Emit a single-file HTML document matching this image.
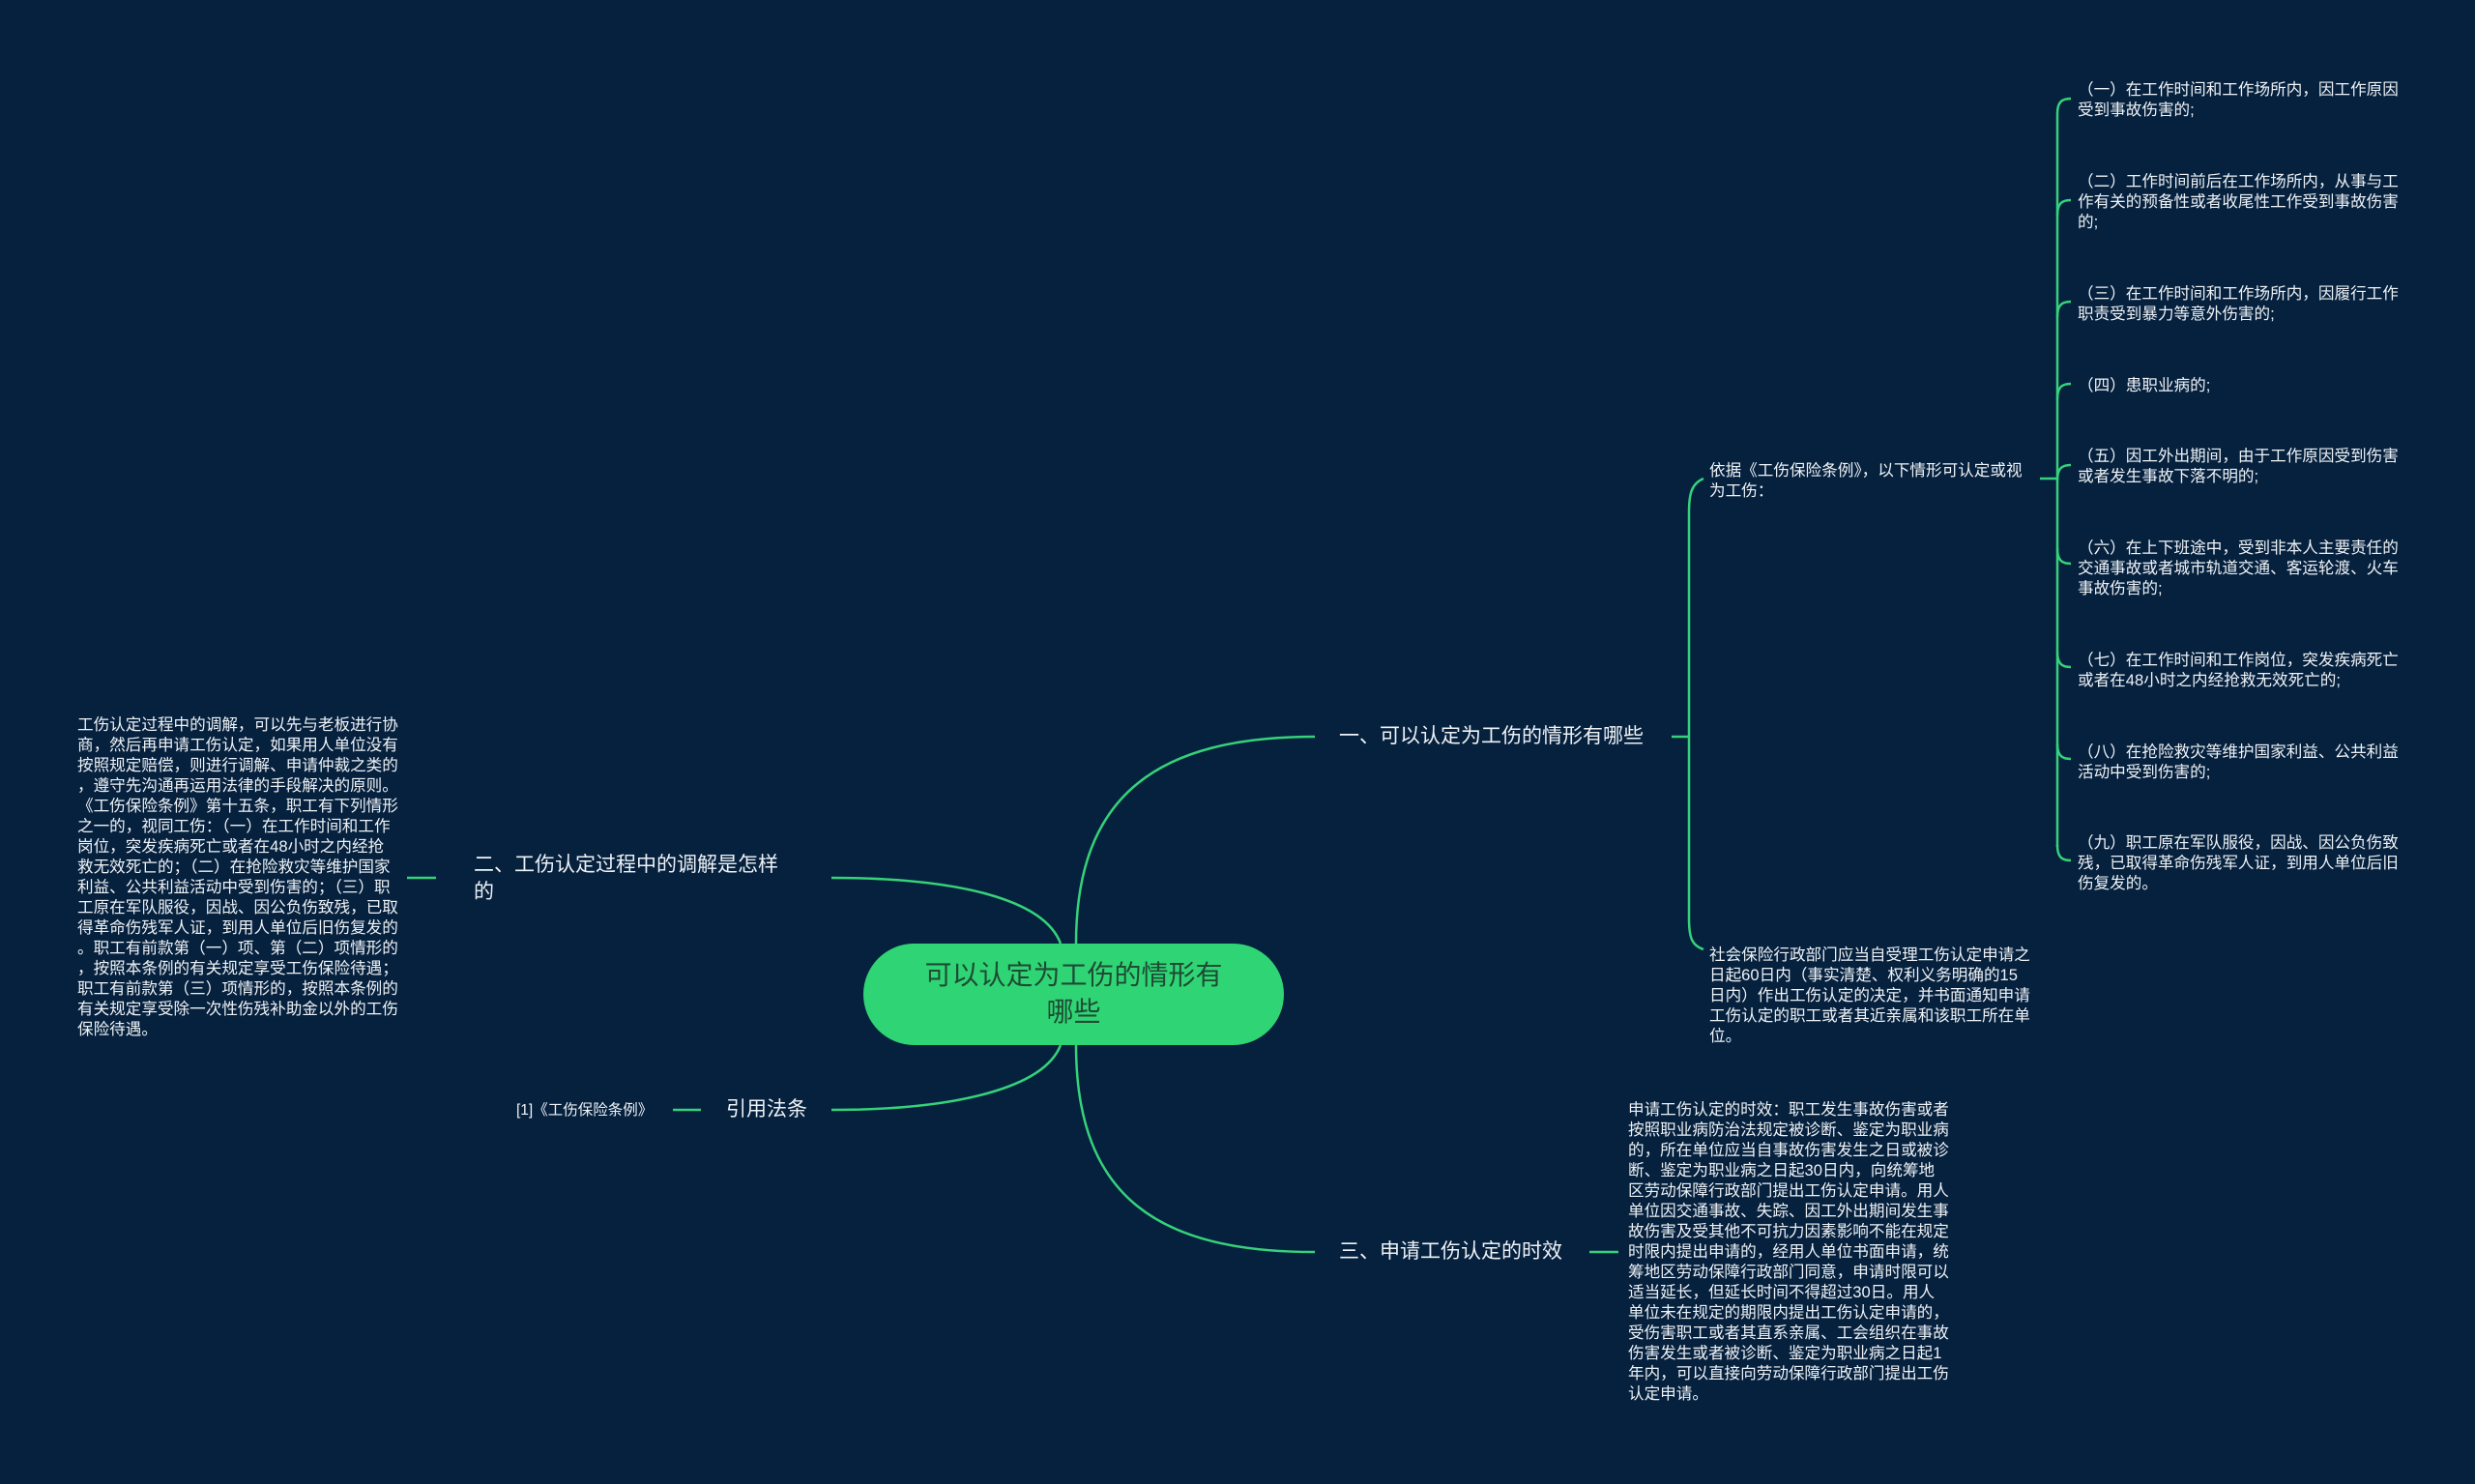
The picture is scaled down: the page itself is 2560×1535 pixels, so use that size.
<!DOCTYPE html>
<html><head><meta charset="utf-8"><style>
html,body{margin:0;padding:0;}
body{width:2560px;height:1535px;background:#06213e;position:relative;overflow:hidden;font-family:"Liberation Sans","Noto Sans CJK SC",sans-serif;color:#eef2f6;}
.t{position:absolute;white-space:nowrap;font-size:16.6px;line-height:21px;}
.n{position:absolute;white-space:nowrap;font-size:21px;line-height:28px;}
svg{position:absolute;left:0;top:0;}
</style></head><body>
<svg width="2560" height="1535" fill="none" stroke="#35d27a" stroke-width="2.5">
<path d="M1113,976 C1113,820 1200,762 1360,762"/>
<path d="M1113,1081 C1113,1240 1200,1295 1360,1295"/>
<path d="M1097,976 C1080,930 990,908 860,908"/>
<path d="M1097,1081 C1080,1125 990,1148 860,1148"/>
<path d="M421,908 H451"/>
<path d="M696,1148 H725"/>
<path d="M1729,762 H1747"/>
<path d="M1644,1295 H1674"/>
<path d="M1762,495 C1750,500 1747,510 1747,530 V950 C1747,970 1750,978 1762,982"/>
<path d="M2110,495 H2128"/>
<path d="M2128,118 V876"/>
<path d="M2128,118 C2128,106 2132,102 2142,102"/>
<path d="M2128,223 C2128,211 2132,207 2142,207"/>
<path d="M2128,328 C2128,316 2132,312 2142,312"/>
<path d="M2128,413 C2128,401 2132,397 2142,397"/>
<path d="M2128,497 C2128,485 2132,481 2142,481"/>
<path d="M2128,567 C2128,579 2132,583 2142,583"/>
<path d="M2128,674 C2128,686 2132,690 2142,690"/>
<path d="M2128,769 C2128,781 2132,785 2142,785"/>
<path d="M2128,874 C2128,886 2132,890 2142,890"/>
</svg>
<div style="position:absolute;left:893px;top:976px;width:435px;height:105px;border-radius:53px;background:#2fd574;"></div>
<div style="position:absolute;left:893px;top:990px;width:435px;text-align:center;font-size:28px;line-height:38px;color:#1f4a35;">可以认定为工伤的情形有<br>哪些</div>

<div class="n" style="left:490px;top:881px;">二、工伤认定过程中的调解是怎样</div>
<div class="n" style="left:490px;top:909px;">的</div>
<div class="n" style="left:751px;top:1134px;">引用法条</div>
<div class="t" style="left:534px;top:1138px;font-size:15.5px;">[1]《工伤保险条例》</div>
<div class="n" style="left:1385px;top:748px;">一、可以认定为工伤的情形有哪些</div>
<div class="n" style="left:1385px;top:1281px;">三、申请工伤认定的时效</div>

<div class="t" style="left:80px;top:739px;">工伤认定过程中的调解，可以先与老板进行协<br>商，然后再申请工伤认定，如果用人单位没有<br>按照规定赔偿，则进行调解、申请仲裁之类的<br>，遵守先沟通再运用法律的手段解决的原则。<br>《工伤保险条例》第十五条，职工有下列情形<br>之一的，视同工伤：（一）在工作时间和工作<br>岗位，突发疾病死亡或者在48小时之内经抢<br>救无效死亡的；（二）在抢险救灾等维护国家<br>利益、公共利益活动中受到伤害的；（三）职<br>工原在军队服役，因战、因公负伤致残，已取<br>得革命伤残军人证，到用人单位后旧伤复发的<br>。职工有前款第（一）项、第（二）项情形的<br>，按照本条例的有关规定享受工伤保险待遇；<br>职工有前款第（三）项情形的，按照本条例的<br>有关规定享受除一次性伤残补助金以外的工伤<br>保险待遇。</div>

<div class="t" style="left:1768px;top:476px;">依据《工伤保险条例》，以下情形可认定或视<br>为工伤：</div>
<div class="t" style="left:1768px;top:977px;">社会保险行政部门应当自受理工伤认定申请之<br>日起60日内（事实清楚、权利义务明确的15<br>日内）作出工伤认定的决定，并书面通知申请<br>工伤认定的职工或者其近亲属和该职工所在单<br>位。</div>

<div class="t" style="left:1684px;top:1137px;">申请工伤认定的时效：职工发生事故伤害或者<br>按照职业病防治法规定被诊断、鉴定为职业病<br>的，所在单位应当自事故伤害发生之日或被诊<br>断、鉴定为职业病之日起30日内，向统筹地<br>区劳动保障行政部门提出工伤认定申请。用人<br>单位因交通事故、失踪、因工外出期间发生事<br>故伤害及受其他不可抗力因素影响不能在规定<br>时限内提出申请的，经用人单位书面申请，统<br>筹地区劳动保障行政部门同意，申请时限可以<br>适当延长，但延长时间不得超过30日。用人<br>单位未在规定的期限内提出工伤认定申请的，<br>受伤害职工或者其直系亲属、工会组织在事故<br>伤害发生或者被诊断、鉴定为职业病之日起1<br>年内，可以直接向劳动保障行政部门提出工伤<br>认定申请。</div>

<div class="t" style="left:2149px;top:82px;">（一）在工作时间和工作场所内，因工作原因<br>受到事故伤害的;</div>
<div class="t" style="left:2149px;top:177px;">（二）工作时间前后在工作场所内，从事与工<br>作有关的预备性或者收尾性工作受到事故伤害<br>的;</div>
<div class="t" style="left:2149px;top:293px;">（三）在工作时间和工作场所内，因履行工作<br>职责受到暴力等意外伤害的;</div>
<div class="t" style="left:2149px;top:388px;">（四）患职业病的;</div>
<div class="t" style="left:2149px;top:461px;">（五）因工外出期间，由于工作原因受到伤害<br>或者发生事故下落不明的;</div>
<div class="t" style="left:2149px;top:556px;">（六）在上下班途中，受到非本人主要责任的<br>交通事故或者城市轨道交通、客运轮渡、火车<br>事故伤害的;</div>
<div class="t" style="left:2149px;top:672px;">（七）在工作时间和工作岗位，突发疾病死亡<br>或者在48小时之内经抢救无效死亡的;</div>
<div class="t" style="left:2149px;top:767px;">（八）在抢险救灾等维护国家利益、公共利益<br>活动中受到伤害的;</div>
<div class="t" style="left:2149px;top:861px;">（九）职工原在军队服役，因战、因公负伤致<br>残，已取得革命伤残军人证，到用人单位后旧<br>伤复发的。</div>
</body></html>
